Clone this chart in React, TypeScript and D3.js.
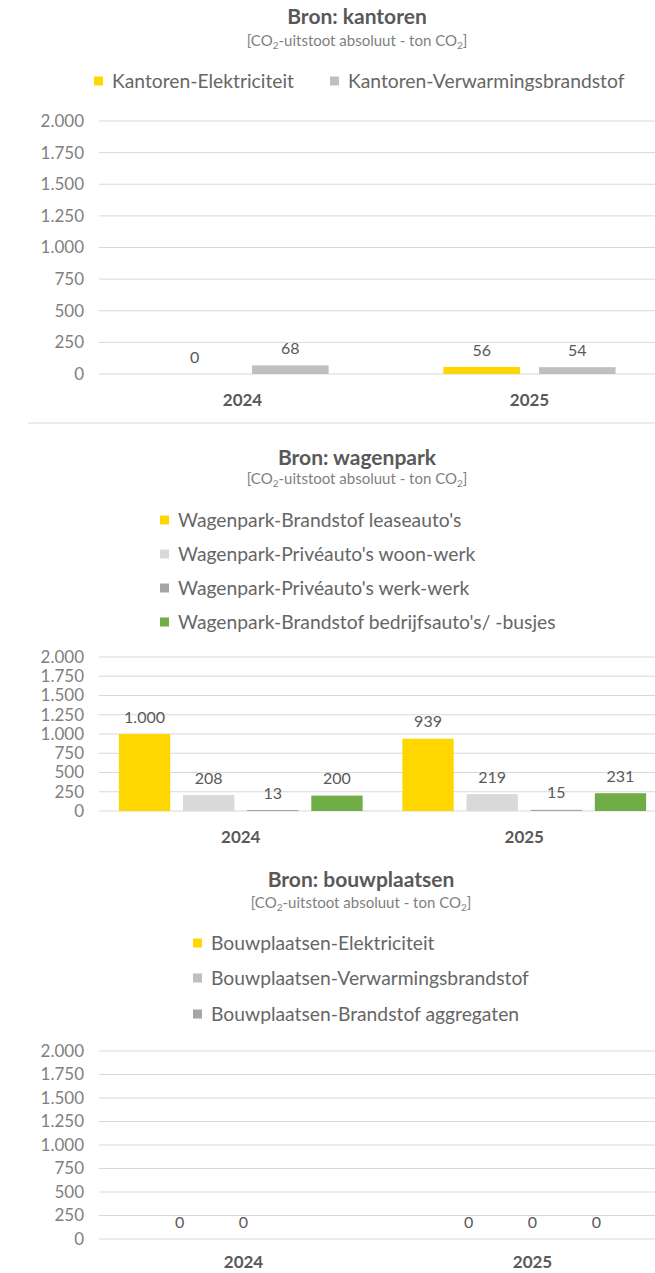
import React from 'react';
import * as d3 from 'd3';

// ---------- data ----------
const years = ['2024', '2025'];
const yTicks = [0, 250, 500, 750, 1000, 1250, 1500, 1750, 2000];

const kantorenSeries = ['Kantoren-Elektriciteit', 'Kantoren-Verwarmingsbrandstof'];
const kantorenColors = ['#FFD700', '#BFBFBF'];
const kantoren2024 = [0, 68];
const kantoren2025 = [56, 54];

const wagenparkSeries = [
  "Wagenpark-Brandstof leaseauto's",
  "Wagenpark-Privéauto's woon-werk",
  "Wagenpark-Privéauto's werk-werk",
  "Wagenpark-Brandstof bedrijfsauto's/ -busjes",
];
const wagenparkColors = ['#FFD700', '#D9D9D9', '#A6A6A6', '#70AD47'];
const wagenpark2024 = [1000, 208, 13, 200];
const wagenpark2025 = [939, 219, 15, 231];

const bouwSeries = [
  'Bouwplaatsen-Elektriciteit',
  'Bouwplaatsen-Verwarmingsbrandstof',
  'Bouwplaatsen-Brandstof aggregaten',
];
const bouwColors = ['#FFD700', '#BFBFBF', '#A6A6A6'];
const bouw2024: (number | null)[] = [0, 0, null];
const bouw2025: (number | null)[] = [0, 0, 0];

// ---------- styling ----------
const W = 655;
const H = 1273;
const FONT = 'Lato, "Open Sans", sans-serif';
const fmt = d3.formatLocale({ decimal: ',', thousands: '.', grouping: [3], currency: ['€', ''] }).format(',');

type ChartCfg = {
  title: string;
  series: string[];
  colors: string[];
  values: (number | null)[][];
  titleY: number;
  subY: number;
  titleX: number;
  legend: { x: number[]; y: number[] };
  y0: number;
  yTop: number;
  xStart: number;
  band: number;
  outerPad: number;
  catY: number;
  separatorY?: number;
};

const charts: ChartCfg[] = [
  {
    title: 'Bron: kantoren',
    series: kantorenSeries,
    colors: kantorenColors,
    values: [kantoren2024, kantoren2025],
    titleY: 17,
    subY: 41,
    titleX: 357,
    legend: { x: [94, 330], y: [81, 81] },
    y0: 374,
    yTop: 121,
    xStart: 99,
    band: 287,
    outerPad: 0.6,
    catY: 400,
    separatorY: 423,
  },
  {
    title: 'Bron: wagenpark',
    series: wagenparkSeries,
    colors: wagenparkColors,
    values: [wagenpark2024, wagenpark2025],
    titleY: 458,
    subY: 479,
    titleX: 357,
    legend: { x: [160, 160, 160, 160], y: [520, 554, 588, 622] },
    y0: 811,
    yTop: 657,
    xStart: 99,
    band: 283.5,
    outerPad: 0.31,
    catY: 837,
  },
  {
    title: 'Bron: bouwplaatsen',
    series: bouwSeries,
    colors: bouwColors,
    values: [bouw2024, bouw2025],
    titleY: 880,
    subY: 903,
    titleX: 361,
    legend: { x: [193, 193, 193], y: [943, 978, 1014] },
    y0: 1239,
    yTop: 1051,
    xStart: 99,
    band: 289,
    outerPad: 0.86,
    catY: 1262,
  },
];

function Chart({ c }: { c: ChartCfg }) {
  const y = d3.scaleLinear().domain([0, 2000]).range([c.y0, c.yTop]);
  const x0 = d3
    .scaleBand<string>()
    .domain(years)
    .range([c.xStart, c.xStart + c.band * years.length])
    .paddingInner(0)
    .paddingOuter(0);
  const x1 = d3
    .scaleBand<number>()
    .domain(c.series.map((_, i) => i))
    .range([0, x0.bandwidth()])
    .paddingInner(0.2)
    .paddingOuter(c.outerPad);

  return (
    <g>
      <text x={c.titleX} y={c.titleY} dy="0.35em" textAnchor="middle" fontSize={21} fontWeight={700} fill="#595959" fontFamily={FONT}>
        {c.title}
      </text>
      <text x={c.titleX} y={c.subY} dy="0.35em" textAnchor="middle" fontSize={15} fill="#7F7F7F" fontFamily={FONT}>
        [CO<tspan fontSize={10} dy="3">2</tspan>
        <tspan dy="-3">-uitstoot absoluut - ton CO</tspan>
        <tspan fontSize={10} dy="3">2</tspan>
        <tspan dy="-3">]</tspan>
      </text>
      {c.series.map((s, i) => (
        <g key={s}>
          <rect x={c.legend.x[i]} y={c.legend.y[i] - 4.5} width={9} height={9} fill={c.colors[i]} />
          <text x={c.legend.x[i] + 18} y={c.legend.y[i]} dy="0.35em" fontSize={19.3} fill="#666666" fontFamily={FONT}>
            {s}
          </text>
        </g>
      ))}
      {yTicks.map((t) => (
        <g key={t}>
          <line x1={c.xStart} x2={W} y1={y(t)} y2={y(t)} stroke="#D9D9D9" strokeWidth={1} />
          <text x={84} y={y(t)} dy="0.35em" textAnchor="end" fontSize={17} fill="#7F7F7F" fontFamily={FONT}>
            {fmt(t)}
          </text>
        </g>
      ))}
      {years.map((yr, yi) => (
        <g key={yr} transform={`translate(${x0(yr)},0)`}>
          {c.values[yi].map((v, si) =>
            v === null ? null : (
              <g key={si}>
                <rect x={x1(si)} y={y(v)} width={x1.bandwidth()} height={y(0) - y(v)} fill={c.colors[si]} />
                <text
                  x={(x1(si) as number) + x1.bandwidth() / 2}
                  y={y(v) - 17}
                  dy="0.35em"
                  textAnchor="middle"
                  fontSize={16}
                  fill="#595959"
                  fontFamily={FONT}
                >
                  {fmt(v)}
                </text>
              </g>
            )
          )}
          <text
            x={x0.bandwidth() / 2}
            y={c.catY}
            dy="0.35em"
            textAnchor="middle"
            fontSize={17}
            fontWeight={700}
            fill="#595959"
            fontFamily={FONT}
          >
            {yr}
          </text>
        </g>
      ))}
      {c.separatorY !== undefined && (
        <line x1={28} x2={W} y1={c.separatorY} y2={c.separatorY} stroke="#D9D9D9" strokeWidth={1} />
      )}
    </g>
  );
}

export default function App() {
  return (
    <div style={{ position: 'absolute', left: 0, top: 0, width: W, height: H, background: '#fff' }}>
      <svg width={W} height={H} style={{ display: 'block' }}>
        <rect width={W} height={H} fill="#fff" />
        {charts.map((c) => (
          <Chart key={c.title} c={c} />
        ))}
      </svg>
    </div>
  );
}
